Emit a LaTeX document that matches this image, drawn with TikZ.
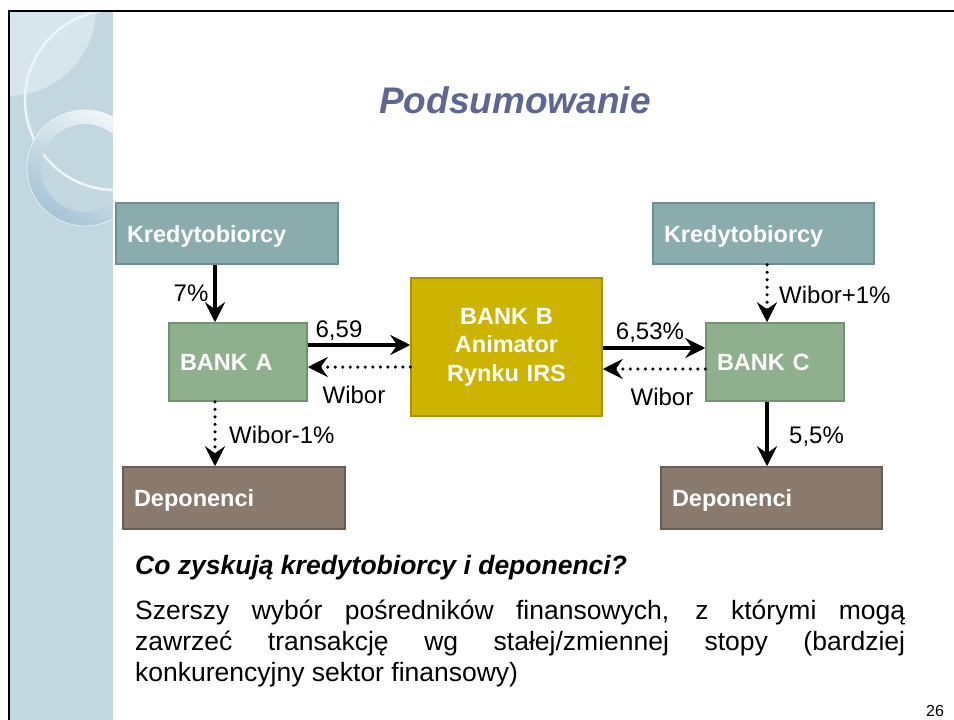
\documentclass[tikz,border=0pt]{standalone}
\usepackage{fontspec}
\setmainfont{Liberation Sans}
\usetikzlibrary{arrows.meta}

\definecolor{stripblue}{HTML}{C3D7E1}
\definecolor{striplight}{HTML}{D7E5EC}
\definecolor{arcwhite}{HTML}{EDF4F7}
\definecolor{ringlight}{HTML}{F2F7FA}
\definecolor{ringdark}{HTML}{A6C4D5}
\definecolor{titleblue}{HTML}{5E6791}
\definecolor{tealfill}{HTML}{8AACAC}
\definecolor{tealline}{HTML}{6D8F8F}
\definecolor{greenfill}{HTML}{8FB08C}
\definecolor{greenline}{HTML}{719370}
\definecolor{goldfill}{HTML}{CCB400}
\definecolor{goldline}{HTML}{A69200}
\definecolor{brownfill}{HTML}{8A796D}
\definecolor{brownline}{HTML}{6B5C51}

\tikzset{
  box/.style={draw, line width=1.5pt, inner xsep=11pt, inner ysep=0pt,
    align=left, text=white, font=\fontsize{23.5}{28.5}\selectfont\bfseries},
  kredbox/.style={box, fill=tealfill, draw=tealline, text width=200pt,
    minimum height=61pt, text depth=0pt},
  bankbox/.style={box, fill=greenfill, draw=greenline, text width=116pt, minimum height=78pt},
  depbox/.style={box, fill=brownfill, draw=brownline, text width=200pt,
    minimum height=62pt, text depth=0pt},
  lbl/.style={inner sep=0pt, font=\fontsize{24}{28}\selectfont},
  tip/.style={-{Stealth[length=20pt,width=20pt,inset=7pt]}},
  solidarr/.style={tip, line width=4pt},
  dotarr/.style={tip, line width=3.5pt, line cap=round, dash pattern=on 0pt off 7.5pt},
  bodytext/.style={anchor=base west, inner sep=0pt, font=\fontsize{26.5}{30}\selectfont}
}

\begin{document}
\begin{tikzpicture}[x=1pt,y=-1pt]
\useasboundingbox (0,0) rectangle (954,720);
\fill[white] (0,0) rectangle (954,720);

% decorative side strip with arcs and ring
\begin{scope}
  \clip (10,11) rectangle (113,722);
  \fill[stripblue] (10,11) rectangle (113,722);
  \fill[striplight] (8,8) circle[radius=88pt];
  \draw[arcwhite, line width=2.5pt] (115,100) circle[radius=90pt];
  \shade[even odd rule, top color=ringlight, bottom color=ringdark, shading angle=-35]
    (85,168) circle[radius=58pt] (85,168) circle[radius=44pt];
  \draw[white, opacity=0.6, line width=0.8pt] (85,168) circle[radius=58pt];
\end{scope}
\draw[line width=2pt, line join=miter] (9,724) -- (9,10.5) -- (958,10.5);

% title
\node[anchor=base, inner sep=0pt, text=titleblue,
      font=\fontsize{37}{40}\selectfont\bfseries\itshape] (title) at (515,113) {Podsumowanie};

% boxes
\node[kredbox] (kredL) at (227,233.5) {Kredytobiorcy};
\node[kredbox, text width=199pt] (kredR) at (763.5,233.5) {Kredytobiorcy};
\node[bankbox] (bankA) at (238,362) {BANK A};
\node[box, fill=goldfill, draw=goldline, text width=169pt, minimum height=138pt,
      align=center] (bankB) at (506.5,347) {BANK B\\Animator\\Rynku IRS};
\node[bankbox] (bankC) at (775,362) {BANK C};
\node[depbox] (depL) at (234,498) {Deponenci};
\node[depbox, text width=199pt] (depR) at (771.5,498) {Deponenci};

% connectors, left side
\draw[solidarr] ([xshift=-12pt]kredL.south) -- ([xshift=-23pt]bankA.north);
\draw[dotarr] ([xshift=-23pt]bankA.south) -- ([xshift=-19pt]depL.north);
\coordinate (ab1) at ([yshift=17pt]bankA.east);
\coordinate (ab2) at ([yshift=-5pt]bankA.east);
\draw[solidarr] (ab1) -- (ab1 -| bankB.west);
\draw[dotarr] (ab2 -| bankB.west) -- (ab2);

% connectors, right side
\coordinate (bc1) at ([yshift=14pt]bankC.west);
\coordinate (bc2) at ([yshift=-7pt]bankC.west);
\draw[solidarr] (bc1 -| bankB.east) -- (bc1);
\draw[dotarr] (bc2) -- (bc2 -| bankB.east);
\draw[dotarr] ([xshift=3.5pt]kredR.south) -- ([xshift=-8pt]bankC.north);
\draw[solidarr] ([xshift=-8pt]bankC.south) -- ([xshift=-4.5pt]depR.north);

% rate labels
\node[lbl, anchor=base] (t7) at (191,301) {7\%};
\node[lbl, anchor=base] (t659) at (339,337) {6,59};
\node[lbl, anchor=base] (twa) at (354,403) {Wibor};
\node[lbl, anchor=base west] (twm) at (229,443) {Wibor-1\%};
\node[lbl, anchor=base] (t653) at (650,339) {6,53\%};
\node[lbl, anchor=base] (twc) at (662,405) {Wibor};
\node[lbl, anchor=base west] (twp) at (779,303) {Wibor+1\%};
\node[lbl, anchor=base west] (t55) at (789,443) {5,5\%};

% summary text
\node[bodytext, font=\fontsize{26.5}{30}\selectfont\bfseries\itshape] (question) at (135,574)
  {Co zyskują kredytobiorcy i deponenci?};
\node[bodytext] (body1) at (135,619.5)
  {\makebox[770pt][s]{Szerszy wybór pośredników finansowych, z którymi mogą}};
\node[bodytext] (body2) at (135,650.5)
  {\makebox[770pt][s]{zawrzeć transakcję wg stałej/zmiennej stopy (bardziej}};
\node[bodytext] (body3) at (135,681) {konkurencyjny sektor finansowy)};

% page number
\node[anchor=base, inner sep=0pt, font=\fontsize{16}{18}\selectfont] (pagenum) at (935,716) {26};
\end{tikzpicture}
\end{document}
